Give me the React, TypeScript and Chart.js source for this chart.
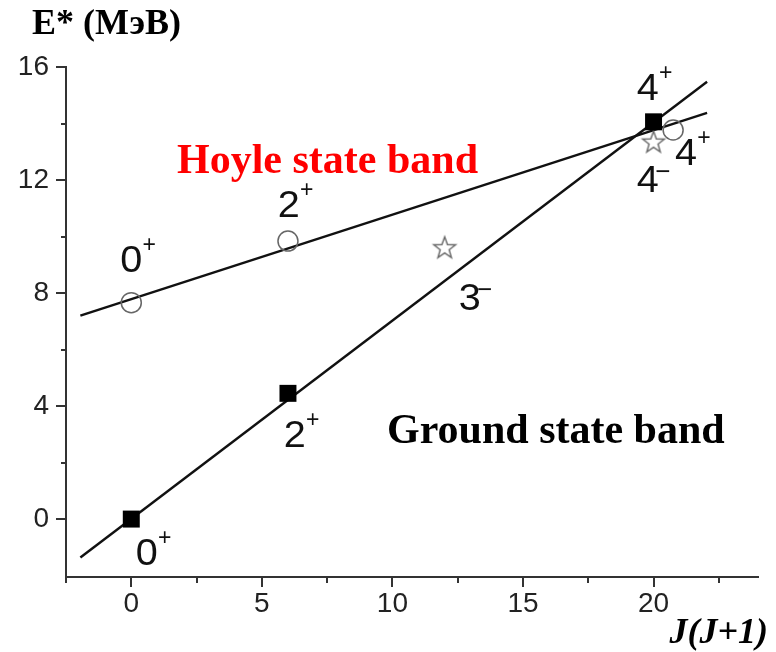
import React, { useEffect, useRef } from 'react';
import { Chart, registerables } from 'chart.js';

Chart.register(...registerables);

// Ground state band (filled squares)
const groundJJ = [0, 6, 20];
const groundE = [0, 4.45, 14.06];
// Hoyle state band (open circles)
const hoyleJJ = [0, 6, 20.75];
const hoyleE = [7.66, 9.84, 13.77];
// Negative-parity states (open stars)
const negJJ = [12, 20];
const negE = [9.62, 13.36];
// Linear fits
const fitJJ = [-1.95, 22.05];
const groundFitE = [-1.36, 15.48];
const hoyleFitE = [7.2, 14.38];

// Axis ticks
const xTicks = [-2.5, 0, 2.5, 5, 7.5, 10, 12.5, 15, 17.5, 20, 22.5];
const yTicks = [0, 2, 4, 6, 8, 10, 12, 14, 16];

// Spin-parity labels (value-space anchor of the digit)
const spinText = ['0', '2', '2', '0', '3', '4', '4', '4'];
const spinSign = ['+', '+', '+', '+', '−', '+', '+', '−'];
const spinX = [0, 6.03, 6.26, 0.59, 12.96, 19.78, 21.24, 19.78];
const spinY = [9.1, 11.04, 2.91, -1.27, 7.75, 15.2, 12.88, 11.92];

function makeStar(): HTMLCanvasElement {
  const c = document.createElement('canvas');
  c.width = 28;
  c.height = 28;
  const g = c.getContext('2d')!;
  g.strokeStyle = '#666';
  g.lineWidth = 1.4;
  g.lineJoin = 'miter';
  g.beginPath();
  for (let i = 0; i < 10; i++) {
    const r = i % 2 === 0 ? 11.5 : 4.7;
    const a = -Math.PI / 2 + (i * Math.PI) / 5;
    const px = 14 + r * Math.cos(a);
    const py = 15 + r * Math.sin(a);
    if (i === 0) g.moveTo(px, py);
    else g.lineTo(px, py);
  }
  g.closePath();
  g.stroke();
  return c;
}

const overlay = {
  id: 'overlay',
  afterDraw(chart: any) {
    const { ctx, chartArea } = chart;
    const xs = chart.scales.x;
    const ys = chart.scales.y;
    ctx.save();
    ctx.strokeStyle = '#333';
    ctx.lineWidth = 2;
    xTicks.forEach((v) => {
      const px = Math.round(xs.getPixelForValue(v));
      const len = v % 5 === 0 ? 10 : 6;
      ctx.beginPath();
      ctx.moveTo(px, chartArea.bottom);
      ctx.lineTo(px, chartArea.bottom + len);
      ctx.stroke();
    });
    yTicks.forEach((v) => {
      const py = Math.round(ys.getPixelForValue(v));
      const len = v % 4 === 0 ? 10 : 5;
      ctx.beginPath();
      ctx.moveTo(chartArea.left, py);
      ctx.lineTo(chartArea.left - len, py);
      ctx.stroke();
    });

    // spin labels
    ctx.fillStyle = '#111';
    ctx.textAlign = 'center';
    ctx.textBaseline = 'middle';
    spinText.forEach((t, i) => {
      const px = xs.getPixelForValue(spinX[i]);
      const py = ys.getPixelForValue(spinY[i]);
      ctx.save();
      ctx.translate(px, py);
      ctx.scale(1.1, 1);
      ctx.font = '36px "Liberation Sans", Arial, sans-serif';
      ctx.fillText(t, 0, 0);
      ctx.restore();
      if (spinSign[i] === '+') {
        ctx.font = '23px "Liberation Sans", Arial, sans-serif';
        ctx.fillText('+', px + 18, py - 16);
      } else {
        ctx.font = '26px "Liberation Sans", Arial, sans-serif';
        ctx.fillText('−', px + 15, py - 9);
      }
    });

    // titles
    ctx.textAlign = 'left';
    ctx.textBaseline = 'alphabetic';
    ctx.fillStyle = '#000';
    ctx.font = 'bold 36px "Liberation Serif", "Times New Roman", serif';
    ctx.fillText('E* (МэВ)', 32, 34);
    ctx.fillStyle = '#ff0000';
    ctx.font = 'bold 42px "Liberation Serif", "Times New Roman", serif';
    ctx.fillText('Hoyle state band', 177, 173);
    ctx.fillStyle = '#000';
    ctx.fillText('Ground state band', 387, 443);
    ctx.textAlign = 'right';
    ctx.font = 'italic bold 36px "Liberation Serif", "Times New Roman", serif';
    ctx.fillText('J(J+1)', 768, 643);
    ctx.restore();
  },
};

export default function App() {
  const ref = useRef<HTMLCanvasElement | null>(null);

  useEffect(() => {
    if (!ref.current) return;
    const star = makeStar();
    const toPts = (xa: number[], ya: number[]) => xa.map((v, i) => ({ x: v, y: ya[i] }));
    const chart = new Chart(ref.current, {
      type: 'scatter',
      data: {
        datasets: [
          {
            data: toPts(groundJJ, groundE),
            pointStyle: 'rect',
            pointRadius: 12,
            pointBackgroundColor: '#000',
            pointBorderWidth: 0,
            showLine: false,
          },
          {
            data: toPts(hoyleJJ, hoyleE),
            pointStyle: 'circle',
            pointRadius: 10,
            pointBackgroundColor: 'rgba(0,0,0,0)',
            pointBorderColor: '#666',
            pointBorderWidth: 1.5,
            showLine: false,
          },
          {
            data: toPts(negJJ, negE),
            pointStyle: star as any,
            pointRadius: 12,
            showLine: false,
          },
          {
            data: toPts(fitJJ, groundFitE),
            showLine: true,
            borderColor: '#111',
            borderWidth: 2.4,
            pointRadius: 0,
          },
          {
            data: toPts(fitJJ, hoyleFitE),
            showLine: true,
            borderColor: '#111',
            borderWidth: 2.4,
            pointRadius: 0,
          },
        ],
      } as any,
      options: {
        responsive: false,
        animation: false,
        devicePixelRatio: 1,
        layout: { padding: { top: 67, right: 18, left: 0, bottom: 0 } },
        plugins: { legend: { display: false }, tooltip: { enabled: false } },
        scales: {
          x: {
            type: 'linear',
            min: -2.5,
            max: 24,
            afterBuildTicks: (s: any) => {
              s.ticks = xTicks.map((v) => ({ value: v }));
            },
            afterFit: (s: any) => {
              s.height = 75;
            },
            grid: { display: false, drawTicks: false },
            border: { display: true, color: '#333', width: 2 },
            ticks: {
              autoSkip: false,
              maxRotation: 0,
              minRotation: 0,
              padding: 10,
              color: '#222',
              font: { family: '"Liberation Sans", Arial, sans-serif', size: 28 },
              callback: (v: any) => (Number(v) % 5 === 0 ? String(v) : ''),
            },
          },
          y: {
            type: 'linear',
            min: -2.05,
            max: 16,
            afterBuildTicks: (s: any) => {
              s.ticks = yTicks.map((v) => ({ value: v }));
            },
            afterFit: (s: any) => {
              s.width = 66;
            },
            grid: { display: false, drawTicks: false },
            border: { display: true, color: '#333', width: 2 },
            ticks: {
              autoSkip: false,
              padding: 17,
              color: '#222',
              font: { family: '"Liberation Sans", Arial, sans-serif', size: 28 },
              callback: (v: any) => (Number(v) % 4 === 0 ? String(v) : ''),
            },
          },
        },
      } as any,
      plugins: [overlay],
    });
    return () => chart.destroy();
  }, []);

  return (
    <div style={{ position: 'absolute', left: 0, top: 0, width: 776, height: 652, background: '#fff' }}>
      <canvas ref={ref} width={776} height={652} style={{ display: 'block', width: 776, height: 652 }} />
    </div>
  );
}
